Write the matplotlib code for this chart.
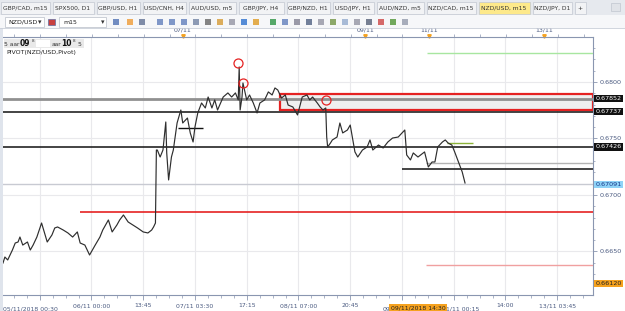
import matplotlib.pyplot as plt
from matplotlib.patches import Rectangle
from matplotlib.transforms import blended_transform_factory

W, H = 625, 311

# price path (m15 bar index, price)
bars = [0, 2, 5, 10, 13, 16, 18, 21, 26, 29, 32, 36, 41, 47, 52, 55, 58, 64, 69, 74,
        79, 82, 87, 92, 98, 103, 106, 112, 116, 121, 124, 128, 133, 138, 143, 149, 154, 158, 160, 162,
        163, 164, 167, 170, 173, 174, 176, 179, 181, 185, 189, 191, 196, 199, 202, 204, 207, 211, 215, 218,
        222, 225, 228, 234, 239, 243, 247, 250, 251, 252, 254, 255, 259, 262, 266, 270, 273, 278, 282, 286,
        289, 292, 296, 300, 303, 308, 313, 318, 323, 326, 329, 334, 337, 340, 343, 344, 345, 348, 350, 355,
        358, 361, 366, 369, 374, 377, 382, 387, 390, 393, 399, 404, 409, 414, 420, 424, 427, 429, 433, 436,
        441, 448, 452, 456, 459, 462, 467, 470, 473, 477, 480, 484, 488, 491]
prices = [0.66398, 0.66451, 0.66425, 0.66513, 0.66575, 0.66584, 0.66628, 0.66557, 0.66584, 0.66513,
          0.66557, 0.66628, 0.66752, 0.66584, 0.66646, 0.66708, 0.66717, 0.66690, 0.66664, 0.66628,
          0.66673, 0.66575, 0.66557, 0.66469, 0.66557, 0.66628, 0.66690, 0.66779, 0.66673, 0.66734,
          0.66779, 0.66823, 0.66761, 0.66734, 0.66708, 0.66673, 0.66664, 0.66690, 0.66717, 0.66752,
          0.67398, 0.67398, 0.67336, 0.67398, 0.67646, 0.67372, 0.67133, 0.67336, 0.67398, 0.67637,
          0.67752, 0.67637, 0.67681, 0.67549, 0.67469, 0.67602, 0.67726, 0.67814, 0.67770, 0.67867,
          0.67770, 0.67841, 0.67752, 0.67867, 0.67903, 0.67867, 0.67903, 0.67841, 0.68133, 0.67752,
          0.67867, 0.67991, 0.67841, 0.67885, 0.67814, 0.67726, 0.67814, 0.67841, 0.67912, 0.67885,
          0.67947, 0.67929, 0.67858, 0.67885, 0.67796, 0.67779, 0.67708, 0.67867, 0.67885, 0.67841,
          0.67867, 0.67814, 0.67779, 0.67752, 0.67770, 0.67513, 0.67425, 0.67460, 0.67487, 0.67513,
          0.67637, 0.67549, 0.67575, 0.67619, 0.67381, 0.67336, 0.67398, 0.67425, 0.67487, 0.67398,
          0.67442, 0.67416, 0.67469, 0.67504, 0.67513, 0.67549, 0.67575, 0.67354, 0.67310, 0.67372,
          0.67336, 0.67381, 0.67248, 0.67292, 0.67292, 0.67425, 0.67469, 0.67487, 0.67460, 0.67442,
          0.67381, 0.67292, 0.67204, 0.67106]

# horizontal levels
full_levels = [0.67852, 0.67737, 0.67426, 0.67100]
red_level = 0.66850
red_level_start = 82
box_low, box_high, box_start = 0.67752, 0.67898, 294
short_black = (0.67593, 186, 213)
olive_level = (0.67458, 472, 500)
green_level = (0.68254, 451)
late_levels = [0.67283, 0.67230, 0.66381]
late_start = 449
circle_bars = [250, 255, 343]
circle_prices = [0.68168, 0.67995, 0.67841]

price_tags = ["0.67852", "0.67737", "0.67426"]
current_tag = "0.67091"
bottom_tag = "0.66120"

xtick_bars = [39 + 55 * k for k in range(11)]
xtick_labels = ["", "06/11 00:00", "13:45", "07/11 03:30", "17:15", "08/11 07:00",
                "20:45", "", "", "14:00", "13/11 03:45"]
ruler_bars = [191, 385, 453, 575]
ruler_labels = ["07/11", "09/11", "11/11", "13/11"]

tab_names = ["GBP/CAD, m15", "SPX500, D1", "GBP/USD, H1", "USD/CNH, H4", "AUD/USD, m5",
             "GBP/JPY, H4", "GBP/NZD, H1", "USD/JPY, H1", "AUD/NZD, m5", "NZD/CAD, m15",
             "NZD/USD, m15", "NZD/JPY, D1", "+"]
tab_left = [0, 52, 96, 142, 188, 238, 286, 332, 376, 426, 478, 532, 574]
tab_right = [50, 94, 140, 186, 236, 284, 330, 374, 424, 476, 530, 572, 586]

XMAX = 627
YMIN, YMAX = 0.66115, 0.68398
AXC = "#4a5a80"

fig = plt.figure(figsize=(W / 100, H / 100), dpi=100)
fig.patch.set_facecolor("white")

# main chart
ax = fig.add_axes([3 / W, (H - 295) / H, 590 / W, 258 / H], zorder=1)
ax.set_xlim(0, XMAX)
ax.set_ylim(YMIN, YMAX)
ax.grid(True, which="major", color="#e9e9ec", lw=0.8)
ax.set_axisbelow(True)

ax.add_patch(Rectangle((box_start, box_low), XMAX - box_start, box_high - box_low,
                       fc="#efefef", ec="#e52222", lw=1.6, zorder=2))
ax.axhline(full_levels[0], color="#909090", lw=2.0, zorder=3)
ax.axhline(full_levels[1], color="#111111", lw=1.1, zorder=3)
ax.axhline(full_levels[2], color="#111111", lw=1.1, zorder=3)
ax.axhline(full_levels[3], color="#c8cad2", lw=1.0, zorder=2)
ax.hlines(red_level, red_level_start, XMAX, color="#e52222", lw=1.2, zorder=3)
ax.hlines(short_black[0], short_black[1], short_black[2], color="#111111", lw=1.0, zorder=3)
ax.hlines(olive_level[0], olive_level[1], olive_level[2], color="#8db33a", lw=1.0, zorder=3)
ax.hlines(green_level[0], green_level[1], XMAX, color="#a8e6a0", lw=1.0, zorder=3)
ax.hlines(late_levels[0], late_start, XMAX, color="#b4b4b4", lw=1.0, zorder=3)
ax.hlines(late_levels[1], late_start - 25, XMAX, color="#111111", lw=1.1, zorder=3)
ax.hlines(late_levels[2], late_start, XMAX, color="#f0a0a0", lw=1.0, zorder=3)

ax.plot(bars, prices, color="#2e2e2e", lw=0.85, zorder=4)
ax.plot(circle_bars, circle_prices, "o", ms=6.5, mfc="none", mec="#e52222", mew=0.9, zorder=5)

for sp in ["top", "left"]:
    ax.spines[sp].set_visible(False)
ax.spines["right"].set_color("#8a96b0")
ax.spines["bottom"].set_color("#8a96b0")

ax.yaxis.tick_right()
ax.set_yticks([0.665, 0.670, 0.675, 0.680])
ax.set_yticklabels(["0.6650", "0.6700", "0.6750", "0.6800"])
ax.set_yticks([0.662 + 0.001 * i for i in range(22)], minor=True)
ax.tick_params(axis="y", which="major", length=3, width=0.6, pad=1.5,
               labelsize=4.6, labelcolor=AXC, color="#8a96b0")
ax.tick_params(axis="y", which="minor", length=1.5, width=0.5, color="#8a96b0")

ax.set_xticks(xtick_bars)
ax.set_xticklabels(xtick_labels)
ax.set_xticks([b + 13.75 * j for b in [-16] + xtick_bars for j in range(1, 4) if 0 < b + 13.75 * j < XMAX],
              minor=True)
ax.tick_params(axis="x", which="major", length=3.5, width=0.6, pad=2.5,
               labelsize=4.4, labelcolor=AXC, color="#8a96b0")
ax.tick_params(axis="x", which="minor", length=1.8, width=0.5, color="#8a96b0")
tx = blended_transform_factory(ax.transData, ax.transAxes)
ax.text(0, -0.045, "05/11/2018 00:30", transform=tx,
        ha="left", va="top", fontsize=4.4, color=AXC, clip_on=False)
# labels partly hidden behind the cursor time box
ax.text(412, -0.045, "09", transform=tx, ha="right", va="top", fontsize=4.4, color=AXC, clip_on=False)
ax.text(471, -0.045, "1/11 00:15", transform=tx, ha="left", va="top", fontsize=4.4, color=AXC,
        clip_on=False)
ax.text(441, -0.04, "09/11/2018 14:30", transform=tx,
        ha="center", va="top", fontsize=4.4, color="#222222", clip_on=False, zorder=6,
        bbox=dict(boxstyle="square,pad=0.25", fc="#f5a21f", ec="none"))

# price tags on the right
ty = blended_transform_factory(ax.transAxes, ax.transData)
for val, tag in zip(full_levels[:3], price_tags):
    ax.text(1.004, val, tag, transform=ty, ha="left", va="center", fontsize=4.6, color="white",
            clip_on=False, zorder=6, bbox=dict(boxstyle="square,pad=0.2", fc="#111111", ec="none"))
ax.text(1.004, float(current_tag), current_tag, transform=ty, ha="left", va="center", fontsize=4.6,
        color="#1a3a8a", clip_on=False, zorder=6,
        bbox=dict(boxstyle="square,pad=0.2", fc="#8fd3f7", ec="none"))
ax.text(1.004, 0.045, bottom_tag, transform=ax.transAxes, ha="left", va="center", fontsize=4.6,
        color="#222222", clip_on=False, zorder=6,
        bbox=dict(boxstyle="square,pad=0.2", fc="#f5a21f", ec="none"))

# time ruler on top
ar = fig.add_axes([3 / W, (H - 37) / H, 590 / W, 9 / H], zorder=1)
ar.set_xlim(0, XMAX)
ar.set_ylim(0, 1)
ar.set_yticks([])
ar.set_xticks([12 + 27.5 * i for i in range(23)])
ar.set_xticklabels([])
ar.tick_params(axis="x", direction="in", length=2.5, width=0.5, color="#8a96b0")
for sp in ["top", "left", "right"]:
    ar.spines[sp].set_visible(False)
ar.spines["bottom"].set_color("#8a96b0")
for b, lab in zip(ruler_bars, ruler_labels):
    ar.text(b, 0.75, lab, ha="center", va="center", fontsize=4.5, color=AXC)
    ar.plot(b, 0.12, marker="v", ms=2.5, color="#f5a21f", clip_on=False)

# window chrome
ui = fig.add_axes([0, 0, 1, 1], zorder=10)
ui.set_xlim(0, W)
ui.set_ylim(H, 0)
ui.axis("off")
ui.patch.set_visible(False)
ui.add_patch(Rectangle((0, 0), W, 15, fc="#e6e9ee", ec="none"))
ui.add_patch(Rectangle((0, 15), W, 13, fc="#f6f7f9", ec="none"))
ui.plot([0, W], [28, 28], color="#c9ced8", lw=0.6)
for i, (name, x0, x1) in enumerate(zip(tab_names, tab_left, tab_right)):
    fc = "#fde98a" if i == 10 else "#f2f3f5"
    ui.add_patch(Rectangle((x0 + 1, 2), x1 - x0 - 1, 12, fc=fc, ec="#c2c7d0", lw=0.5))
    ui.text((x0 + x1) / 2, 8.3, name, ha="center", va="center", fontsize=4.3, color="#333333")
ui.add_patch(Rectangle((611, 3), 9, 8, fc="#e0e3e8", ec="#b8bec8", lw=0.4))
ui.add_patch(Rectangle((5, 17), 39, 10, fc="white", ec="#b8bec8", lw=0.5))
ui.text(8, 22, "NZD/USD", ha="left", va="center", fontsize=4.5, color="#222222")
ui.text(40, 22, "▾", ha="center", va="center", fontsize=5, color="#333333")
ui.add_patch(Rectangle((59, 17), 47, 10, fc="white", ec="#b8bec8", lw=0.5))
ui.text(63, 22, "m15", ha="left", va="center", fontsize=4.5, color="#222222")
ui.text(103, 22, "▾", ha="center", va="center", fontsize=5, color="#333333")
ui.add_patch(Rectangle((48, 19), 7, 6, fc="#c84040", ec="#4060a0", lw=0.4))
icon_x = [113, 127, 139, 157, 169, 181, 193, 205, 217, 229, 241, 253, 270, 282, 294, 306, 318, 330,
          342, 354, 366, 378, 390, 402]
icon_c = ["#5a7ab8", "#f0a040", "#6a7a9a", "#6a86c0", "#6a86c0", "#6a86c0", "#7a8aa8", "#707070",
          "#d8a040", "#9a9aa8", "#3a7ad0", "#e0a030", "#3a9a50", "#6a86c0", "#8a8a9a", "#5a6a8a",
          "#9a9aa8", "#7a9a50", "#9ab0d0", "#9a9aa8", "#606a80", "#d05050", "#5a9a40", "#9aa0b0"]
for x, c in zip(icon_x, icon_c):
    ui.add_patch(Rectangle((x, 19), 6, 6, fc=c, ec="none", alpha=0.85))
ui.add_patch(Rectangle((0, 28), 3, 283, fc="#dfe4ec", ec="none"))

# info box at top-left of the chart
ui.add_patch(Rectangle((4, 39), 80, 9, fc="#e9e9e9", ec="none"))
ui.add_patch(Rectangle((36, 40), 14, 7, fc="white", ec="none"))
ui.text(4.5, 44, "5 aar", ha="left", va="center", fontsize=4.3, color="#333333")
ui.text(20, 43.5, "09", ha="left", va="center", fontsize=5.5, fontweight="bold", color="#111111")
ui.text(31.5, 41.5, "8", ha="left", va="center", fontsize=3.0, color="#333333")
ui.text(51.5, 44, "aar", ha="left", va="center", fontsize=4.3, color="#333333")
ui.text(61.5, 43.5, "10", ha="left", va="center", fontsize=5.5, fontweight="bold", color="#111111")
ui.text(73, 41.5, "8", ha="left", va="center", fontsize=3.0, color="#333333")
ui.text(78, 44, "5", ha="left", va="center", fontsize=4.3, color="#333333")
ui.text(6, 52.5, "PIVOT(NZD/USD,Pivot)", ha="left", va="center", fontsize=4.5, color="#222222")

fig.savefig("out.png", dpi=100)
